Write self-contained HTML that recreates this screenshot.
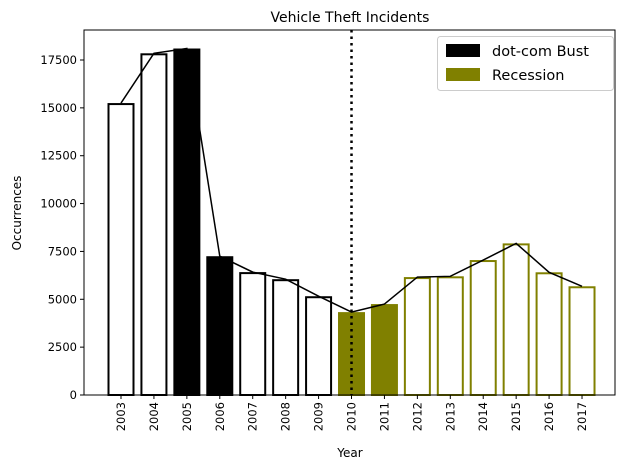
<!DOCTYPE html>
<html><head><meta charset="utf-8"><style>
body{margin:0;background:#fff;font-family:"Liberation Sans","DejaVu Sans",sans-serif;}
svg text{font-family:"DejaVu Sans","Liberation Sans",sans-serif;}
</style></head><body>
<svg id="chart" width="630" height="470"></svg>
<script>
const years=['2003','2004','2005','2006','2007','2008','2009','2010','2011','2012','2013','2014','2015','2016','2017'];
const counts=[15250,17850,18100,7250,6420,6050,5160,4330,4750,6160,6200,7050,7920,6410,5680];
const kinds=['o','o','b','b','o','o','o','r','r','g','g','g','g','g','g'];
const yTicks=[0,2500,5000,7500,10000,12500,15000,17500];
const L=84,R=615,T=30,B=395;
const x0=121,step=32.93;
const xs=i=>x0+i*step;
const ys=v=>B-v*(335/17500);
const svg=document.getElementById('chart');
const NS='http://www.w3.org/2000/svg';
function mk(t,a,p){const e=document.createElementNS(NS,t);for(const k in a)e.setAttribute(k,a[k]);(p||svg).appendChild(e);return e;}
const olive='#808000';
const bw=27;
counts.forEach((v,i)=>{
 const k=kinds[i];
 const fill=k==='b'?'#000':k==='r'?olive:'#fff';
 const stroke=(k==='r'||k==='g')?olive:'#000';
 const r=mk('rect',{x:xs(i)-bw/2+1,y:ys(v)+1,width:bw-2,height:B-ys(v)-1,fill:fill,stroke:stroke,'stroke-width':2});
 
 
});
const pl=mk('polyline',{points:counts.map((v,i)=>xs(i)+','+ys(v)).join(' '),fill:'none',stroke:'#000','stroke-width':1.5});


const vl=mk('line',{x1:xs(7),x2:xs(7),y1:T,y2:B,stroke:'#000','stroke-width':2.5,'stroke-dasharray':'2.5,4'});


mk('rect',{x:L,y:T,width:R-L,height:B-T,fill:'none',stroke:'#000','stroke-width':1,});
yTicks.forEach(t=>{
 const y=ys(t);
 mk('line',{x1:L-4,x2:L,y1:y,y2:y,stroke:'#000'});
 const tx=mk('text',{x:L-7,y:y+4,'text-anchor':'end','font-size':11.5});
 tx.textContent=t;
 
 
});
years.forEach((yr,i)=>{
 const x=xs(i);
 mk('line',{x1:x,x2:x,y1:B,y2:B+4,stroke:'#000'});
 const tx=mk('text',{x:x+4,y:B+7,'text-anchor':'end','font-size':11.5,transform:'rotate(-90 '+(x+4)+' '+(B+7)+')'});
 tx.textContent=yr;
 
 
});
</script>
<svg width="630" height="470" style="position:absolute;left:0;top:0">
<text x="350" y="22" text-anchor="middle" font-size="14">Vehicle Theft Incidents</text>
<text x="350" y="457" text-anchor="middle" font-size="12">Year</text>
<text x="21" y="213" text-anchor="middle" font-size="12" transform="rotate(-90 21 213)">Occurrences</text>
<g>
<rect x="437.5" y="36.5" width="176" height="54" rx="3" fill="#fff" fill-opacity="0.8" stroke="#ccc"/>
<rect x="446" y="44" width="34" height="13" fill="#000"/>
<text x="492" y="56" font-size="14.5">dot-com Bust</text>
<rect x="446" y="68" width="34" height="13" fill="#808000"/>
<text x="492" y="80" font-size="14.5">Recession</text>
</g>
</svg>
</body></html>
